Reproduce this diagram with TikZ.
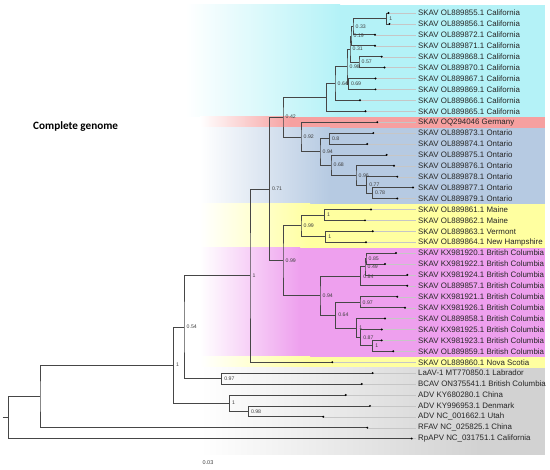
\documentclass[tikz,border=0pt]{standalone}
\usepackage{fontspec}
\setmainfont{Liberation Sans}
\newfontfamily\calfont{Carlito}
\definecolor{cyanB}{RGB}{180,242,247}
\definecolor{redB}{RGB}{246,160,160}
\definecolor{blueB}{RGB}{182,202,226}
\definecolor{yelB}{RGB}{255,255,160}
\definecolor{magB}{RGB}{238,160,238}
\definecolor{greyB}{RGB}{210,210,210}
\definecolor{brc}{RGB}{70,70,70}
\tikzset{
 br/.style={draw=brc, line width=0.75pt},
 guide/.style={draw=gray!45, line width=0.35pt},
 lab/.style={anchor=west, inner sep=0pt, font=\fontsize{7.9}{8}\selectfont, text=black!85},
 bsl/.style={anchor=west, inner sep=0pt, font=\fontsize{5.2}{6}\selectfont, text=black!75, xshift=2.5pt},
}
\newcommand\band[5]{%
  \shade[left color=white, right color=#3] (#4,#1) rectangle (#5,#2);
  \fill[#3] (#5-0.3,#1) rectangle (545,#2);
}
\newcommand\tip[4]{%
  \coordinate (#1) at (#2,#3);
  \node[lab] (#1L) at (418,#3) {#4};
  \draw[guide] (#1) -- ([xshift=-2pt]#1L.west);
}
\newcommand\inode[6]{%
  \coordinate (#1) at (#2,#3);
  \draw[br] (#4) -| (#1) |- (#5);
  \node[bsl] (#1s) at (#1) {#6};
}
\begin{document}
\begin{tikzpicture}[x=1pt,y=-1pt]
\useasboundingbox (0,0) rectangle (550,470);
% background bands
\band{5}{116.7}{cyanB}{185}{340}
\band{116.7}{127.6}{redB}{200}{290}
\band{127.6}{204}{blueB}{200}{330}
\band{204}{247.7}{yelB}{200}{310}
\band{247.7}{356.8}{magB}{200}{300}
\band{356.8}{367.7}{yelB}{200}{310}
\band{367.7}{455}{greyB}{200}{480}
% tips
\tip{t1}{388.5}{13.0}{SKAV OL889855.1 California}
\tip{t2}{389.5}{23.9}{SKAV OL889856.1 California}
\tip{t3}{375}{34.8}{SKAV OL889872.1 California}
\tip{t4}{375}{45.7}{SKAV OL889871.1 California}
\tip{t5}{381.7}{56.7}{SKAV OL889868.1 California}
\tip{t6}{384.5}{67.6}{SKAV OL889870.1 California}
\tip{t7}{375.5}{78.5}{SKAV OL889867.1 California}
\tip{t8}{375.5}{89.4}{SKAV OL889869.1 California}
\tip{t9}{360}{100.3}{SKAV OL889866.1 California}
\tip{t10}{365.5}{111.2}{SKAV OL889865.1 California}
\tip{t11}{377.3}{122.2}{SKAV OQ294046 Germany}
\tip{t12}{373.3}{133.1}{SKAV OL889873.1 Ontario}
\tip{t13}{367.3}{144.0}{SKAV OL889874.1 Ontario}
\tip{t14}{386.7}{154.9}{SKAV OL889875.1 Ontario}
\tip{t15}{394}{165.8}{SKAV OL889876.1 Ontario}
\tip{t16}{397.3}{176.7}{SKAV OL889878.1 Ontario}
\tip{t17}{413}{187.6}{SKAV OL889877.1 Ontario}
\tip{t18}{397.3}{198.5}{SKAV OL889879.1 Ontario}
\tip{t19}{371}{209.5}{SKAV OL889861.1 Maine}
\tip{t20}{365}{220.4}{SKAV OL889862.1 Maine}
\tip{t21}{372.7}{231.3}{SKAV OL889863.1 Vermont}
\tip{t22}{366}{242.2}{SKAV OL889864.1 New Hampshire}
\tip{t23}{396}{253.1}{SKAV KX981920.1 British Columbia}
\tip{t24}{385}{264.0}{SKAV KX981922.1 British Columbia}
\tip{t25}{407.3}{274.9}{SKAV KX981924.1 British Columbia}
\tip{t26}{407.3}{285.8}{SKAV OL889857.1 British Columbia}
\tip{t27}{397.3}{296.8}{SKAV KX981921.1 British Columbia}
\tip{t28}{405}{307.7}{SKAV KX981926.1 British Columbia}
\tip{t29}{385}{318.6}{SKAV OL889858.1 British Columbia}
\tip{t30}{381.7}{329.5}{SKAV KX981925.1 British Columbia}
\tip{t31}{381.7}{340.4}{SKAV KX981923.1 British Columbia}
\tip{t32}{393.3}{351.3}{SKAV OL889859.1 British Columbia}
\tip{t33}{332.3}{362.2}{SKAV OL889860.1 Nova Scotia}
\tip{t34}{372.7}{373.1}{LaAV-1 MT770850.1 Labrador}
\tip{t35}{361.7}{384.0}{BCAV ON375541.1 British Columbia}
\tip{t36}{345.7}{395.0}{ADV KY680280.1 China}
\tip{t37}{370}{405.9}{ADV KY996953.1 Denmark}
\tip{t38}{323.3}{416.8}{ADV NC\_001662.1 Utah}
\tip{t39}{367.3}{427.7}{RFAV NC\_025825.1 China}
\tip{t40}{411.7}{438.6}{RpAPV NC\_031751.1 California}
% internal nodes
\inode{nA}{386.7}{18.45}{t1}{t2}{1}
\inode{nB}{353}{26.6}{nA}{t3}{0.33}
\inode{nC}{351}{36.2}{nB}{t4}{0.19}
\inode{nD}{359}{62.15}{t5}{t6}{0.57}
\inode{nE}{350}{49.2}{nC}{nD}{0.31}
\inode{nF}{348.3}{83.95}{t7}{t8}{0.69}
\inode{nG}{347}{66.6}{nE}{nF}{0.98}
\inode{nH}{335}{83.45}{nG}{t9}{0.64}
\inode{nI}{326.7}{97.3}{nH}{t10}{}
\inode{nO1}{329.3}{138.55}{t12}{t13}{0.8}
\inode{nO78}{372.3}{193.05}{t17}{t18}{0.78}
\inode{nO77}{366.7}{184.9}{t16}{nO78}{0.77}
\inode{nO96}{356}{175.35}{t15}{nO77}{0.96}
\inode{nO68}{331}{165.1}{t14}{nO96}{0.68}
\inode{nO94}{320}{151.8}{nO1}{nO68}{0.94}
\inode{nK}{301}{137}{t11}{nO94}{0.92}
\inode{nJ}{283}{117.15}{nI}{nK}{0.42}
\inode{nM1}{324.3}{214.95}{t19}{t20}{1}
\inode{nM2}{325.7}{236.75}{t21}{t22}{1}
\inode{nM}{301}{225.85}{nM1}{nM2}{0.99}
\inode{nT}{366}{258.55}{t23}{t24}{0.85}
\inode{nU}{365}{266.7}{nT}{t25}{0.49}
\inode{nV}{360.7}{276.25}{nU}{t26}{0.84}
\inode{nX}{360}{302.25}{t27}{t28}{0.97}
\inode{nP}{372.7}{345.85}{t31}{t32}{1}
\inode{nQ}{360.7}{337.7}{t30}{nP}{0.87}
\inode{nR}{356.7}{328.15}{t29}{nQ}{1}
\inode{nS}{335.7}{315.2}{nX}{nR}{0.64}
\inode{nW}{320}{295.7}{nV}{nS}{0.94}
\inode{nN99}{283}{260.8}{nM}{nW}{0.99}
\inode{nN71}{269.3}{189}{nJ}{nN99}{0.71}
\inode{nN1}{250}{275.6}{nN71}{t33}{1}
\inode{nL97}{221.7}{378.55}{t34}{t35}{0.97}
\inode{nN54}{184}{327.1}{nN1}{nL97}{0.54}
\inode{nD98}{248.3}{411.35}{t37}{t38}{0.98}
\inode{nAD}{229.3}{403.2}{t36}{nD98}{1}
\inode{nTop}{173.3}{365.15}{nN54}{nAD}{1}
\inode{n40}{40}{396.4}{nTop}{t39}{}
\inode{root}{8.3}{417.5}{n40}{t40}{}
\coordinate (stem) at (2.5,417.5);
\draw[br] (stem) -- (root);
% tip dots
\foreach \i in {1,...,40} \fill[black] (t\i) circle (1.1);
% texts
\node[anchor=west, inner sep=0pt, font=\calfont\bfseries\fontsize{11.2}{12}\selectfont] (title) at (33,127) {Complete genome};
\node[inner sep=0pt, font=\fontsize{5.5}{6}\selectfont, text=black!75] (scale) at (208,463) {0.03};
\end{tikzpicture}
\end{document}
